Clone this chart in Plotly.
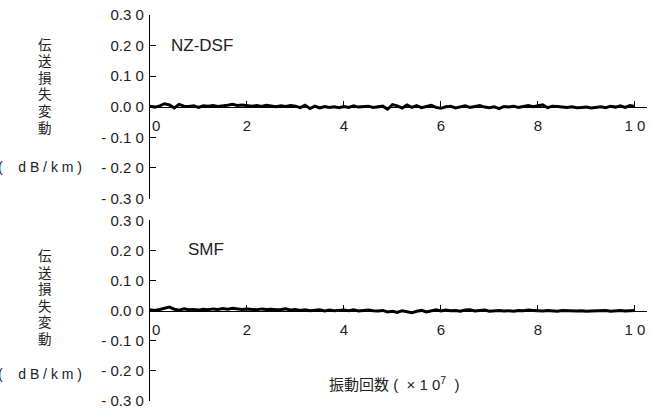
import plotly.graph_objects as go

# ---- data (dB/km), sampled every 0.1 x10^7 cycles ----
n_points = 101
cycles = [round(i * 0.1, 1) for i in range(n_points)]

nzdsf = [0.002, -0.001, 0.003, 0.010, 0.006, -0.004, 0.008, 0.002, 0.001, 0.003,
         -0.002, 0.003, 0.002, 0.004, 0.001, 0.002, 0.005, 0.008, 0.004, 0.006,
         0.003, 0.002, 0.004, 0.001, 0.005, 0.002, 0.000, 0.003, 0.001, 0.004,
         0.002, -0.003, 0.005, -0.006, 0.002, -0.004, 0.001, -0.002, 0.000, -0.003,
         0.001, -0.002, 0.003, -0.001, 0.000, 0.002, -0.002, -0.001, 0.002, -0.008,
         0.007, 0.003, -0.004, 0.006, -0.002, 0.004, -0.003, 0.001, 0.005, -0.002,
         -0.005, 0.000, 0.002, -0.004, -0.001, 0.003, -0.002, 0.001, 0.004, -0.001,
         -0.003, 0.000, -0.006, 0.001, -0.001, 0.002, -0.002, 0.001, 0.004, 0.000,
         0.003, 0.006, -0.003, 0.002, 0.001, -0.001, -0.002, 0.000, -0.003, -0.002,
         -0.001, -0.004, -0.002, 0.000, -0.003, 0.002, -0.001, 0.003, -0.002, 0.004,
         0.001]

smf = [0.003, 0.001, 0.004, 0.007, 0.012, 0.005, 0.002, 0.006, 0.003, 0.004,
       0.002, 0.005, 0.003, 0.006, 0.004, 0.007, 0.005, 0.008, 0.006, 0.004,
       0.006, 0.005, 0.003, 0.006, 0.004, 0.005, 0.003, 0.004, 0.006, 0.002,
       0.004, 0.001, 0.003, 0.000, 0.002, 0.003, -0.001, 0.002, 0.000, 0.001,
       0.002, 0.000, 0.003, -0.001, 0.001, 0.002, 0.000, -0.001, 0.001, -0.004,
       -0.002, -0.006, 0.000, -0.003, -0.007, -0.002, 0.001, -0.004, 0.000, 0.003,
       -0.001, 0.002, 0.000, 0.001, -0.002, 0.002, 0.003, -0.001, 0.001, 0.002,
       -0.002, 0.000, 0.001, -0.001, 0.000, -0.002, 0.001, 0.000, 0.002, 0.001,
       0.000, -0.001, 0.001, 0.000, -0.002, 0.001, 0.000, -0.002, -0.001, 0.000,
       -0.002, -0.001, 0.000, -0.001, 0.001, -0.002, 0.000, 0.001, -0.001, 0.000,
       0.001]

panel_names = ["NZ-DSF", "SMF"]
y_ticks = [0.30, 0.20, 0.10, 0.00, -0.10, -0.20, -0.30]
y_ticktext = ["0.3 0", "0.2 0", "0.1 0", "0.0 0", "- 0.1 0", "- 0.2 0", "- 0.3 0"]
x_ticks = [0, 2, 4, 6, 8, 10]
x_ticktext = ["   0", "2", "4", "6", "8", "1 0"]
y_title_chars = list("伝送損失変動")
y_unit = "(    d B / k m )"
x_title = "振動回数 (  × 1 0<sup>7</sup>  )"

# ---- layout geometry (pixels) ----
W, H = 652, 414
ML, MR, MT, MB = 150, 5, 15, 10
PW, PH = W - ML - MR, H - MT - MB


def fy(py):
    return (H - MB - py) / PH


def fx(px):
    return (px - ML) / PW


FONT = "Liberation Sans, Arial, Noto Sans CJK JP, sans-serif"
CJK = "Noto Sans CJK JP, sans-serif"
TXT = "#222222"

fig = go.Figure()
fig.add_trace(go.Scatter(x=cycles, y=nzdsf, mode="lines", xaxis="x", yaxis="y",
                         line=dict(color="black", width=3), showlegend=False))
fig.add_trace(go.Scatter(x=cycles, y=smf, mode="lines", xaxis="x2", yaxis="y2",
                         line=dict(color="black", width=3), showlegend=False))

yax = dict(range=[-0.30, 0.30], tickvals=y_ticks, ticktext=y_ticktext,
           ticks="inside", ticklen=6, tickwidth=1, tickcolor="black",
           showline=True, linecolor="black", linewidth=1.2,
           showgrid=False, zeroline=False, ticklabelstandoff=2,
           tickfont=dict(family=FONT, size=15, color=TXT))
xax = dict(range=[0, 10.25], tickvals=x_ticks, ticktext=x_ticktext,
           ticks="inside", ticklen=6, tickwidth=1, tickcolor="black",
           showline=True, linecolor="black", linewidth=1.2,
           showgrid=False, zeroline=False, anchor="free", ticklabelstandoff=5,
           tickfont=dict(family=FONT, size=15, color=TXT))

fig.update_layout(
    width=W, height=H, margin=dict(l=ML, r=MR, t=MT, b=MB),
    paper_bgcolor="white", plot_bgcolor="white",
    yaxis=dict(yax, domain=[fy(200), fy(15)]),
    yaxis2=dict(yax, domain=[fy(404), fy(222)]),
    xaxis=dict(xax, position=fy(108)),
    xaxis2=dict(xax, position=fy(313)),
)

annotations = []
for name, px, py in [(panel_names[0], 169, 46), (panel_names[1], 186, 251)]:
    annotations.append(dict(x=fx(px), y=fy(py), text=name, xref="paper", yref="paper",
                            xanchor="left", yanchor="middle", showarrow=False,
                            font=dict(family=FONT, size=17, color=TXT)))

for first_center, unit_y in [(44, 168), (257, 377)]:
    for i, ch in enumerate(y_title_chars):
        annotations.append(dict(x=fx(45), y=fy(first_center + 16.7 * i), xref="paper",
                                yref="paper", text=ch, xanchor="center",
                                yanchor="middle", showarrow=False, height=16,
                                font=dict(family=CJK, size=13.5, color=TXT)))
    annotations.append(dict(x=fx(84), y=fy(unit_y), xref="paper", yref="paper",
                            text=y_unit, xanchor="right", yanchor="middle",
                            showarrow=False,
                            font=dict(family=FONT, size=14, color=TXT)))

annotations.append(dict(x=fx(394), y=fy(386), xref="paper", yref="paper",
                        text=x_title, xanchor="center",
                        yanchor="middle", showarrow=False,
                        font=dict(family=FONT, size=15, color=TXT)))

fig.update_layout(annotations=annotations)
fig.write_html("out.html")
